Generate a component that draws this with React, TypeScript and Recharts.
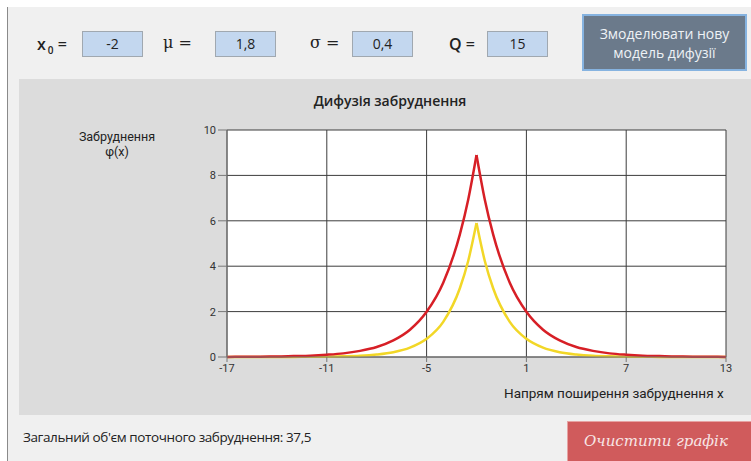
import React from "react";
import { LineChart, Line, XAxis, YAxis, CartesianGrid } from "recharts";

// x positions (units of x) and read-off values of φ(x)
const xValues = [-17, -16, -15, -14, -13, -12, -11, -10, -9, -8, -7, -6, -5, -4, -3, -2.5, -2, -1.5, -1, 0, 1, 2, 3, 4, 5, 6, 7, 8, 9, 10, 11, 12, 13];
const redValues = [0.005, 0.01, 0.015, 0.02, 0.04, 0.06, 0.1, 0.16, 0.27, 0.44, 0.73, 1.2, 1.99, 3.27, 5.4, 6.93, 8.9, 6.93, 5.4, 3.27, 1.99, 1.2, 0.73, 0.44, 0.27, 0.16, 0.1, 0.06, 0.04, 0.02, 0.015, 0.01, 0.005];
const yellowValues = [0, 0, 0.001, 0.002, 0.004, 0.008, 0.015, 0.03, 0.055, 0.11, 0.21, 0.41, 0.8, 1.55, 3.03, 4.23, 5.9, 4.23, 3.03, 1.55, 0.8, 0.41, 0.21, 0.11, 0.055, 0.03, 0.015, 0.008, 0.004, 0.002, 0.001, 0, 0];
const peakX = -2;

const xTicks = [-17, -11, -5, 1, 7, 13];
const yTicks = [0, 2, 4, 6, 8, 10];

const params = [
  { label: "x", sub: "0", value: "-2", left: 37, boxLeft: 82, serif: false },
  { label: "μ", sub: "", value: "1,8", left: 163, boxLeft: 215, serif: true },
  { label: "σ", sub: "", value: "0,4", left: 310, boxLeft: 352, serif: true },
  { label: "Q", sub: "", value: "15", left: 449, boxLeft: 487, serif: false },
];

const totalVolume = "37,5";

// split each curve into two branches so the peak stays a sharp cusp
const chartData = xValues.map((x, i) => ({
  x,
  redL: x <= peakX ? redValues[i] : undefined,
  redR: x >= peakX ? redValues[i] : undefined,
  yelL: x <= peakX ? yellowValues[i] : undefined,
  yelR: x >= peakX ? yellowValues[i] : undefined,
}));

const uiFont = "'Open Sans', 'DejaVu Sans', sans-serif";
const chartFont = "Roboto, 'Noto Sans', sans-serif";

export default function App() {
  return (
    <div style={{ position: "absolute", left: 0, top: 0, width: 751, height: 461, background: "#f0f0f0", overflow: "hidden", fontFamily: uiFont }}>
      <div style={{ position: "absolute", left: 0, top: 0, width: 751, height: 7, background: "#fff" }} />
      <div style={{ position: "absolute", left: 0, top: 0, width: 7, height: 461, background: "#fff" }} />
      <div style={{ position: "absolute", left: 7, top: 7, width: 1, height: 454, background: "#8a8a8a" }} />

      {params.map((p) => (
        <React.Fragment key={p.label}>
          <div style={{ position: "absolute", left: p.left, top: 33, fontSize: 16, fontWeight: p.serif ? 400 : 600, fontFamily: p.serif ? "'DejaVu Serif', serif" : uiFont, color: "#222", whiteSpace: "nowrap" }}>
            {p.label}
            {p.sub && <sub style={{ fontSize: 10, marginLeft: 2 }}>{p.sub}</sub>}
            {" ="}
          </div>
          <div style={{ position: "absolute", left: p.boxLeft, top: 31, width: 59, height: 24, background: "#c3d7ef", border: "1px solid #a0a8b0", fontSize: 14, color: "#222", textAlign: "center", lineHeight: "24px" }}>
            {p.value}
          </div>
        </React.Fragment>
      ))}

      <div style={{ position: "absolute", left: 582, top: 14, width: 161, height: 53, background: "#6b7a8b", border: "2px solid #86b3e0", color: "#eef2f6", fontSize: 14, textAlign: "center", lineHeight: "19px", display: "flex", alignItems: "center", justifyContent: "center", whiteSpace: "nowrap" }}>
        Змоделювати нову<br />модель дифузії
      </div>

      <div style={{ position: "absolute", left: 19, top: 79, width: 732, height: 336, background: "#dcdcdc" }}>
        <div style={{ position: "absolute", left: 0, top: 12, width: 742, textAlign: "center", fontSize: 14, fontWeight: 600, color: "#222", fontFamily: uiFont }}>
          Дифузія забруднення
        </div>
        <div style={{ position: "absolute", left: 48, top: 50, width: 100, textAlign: "center", fontSize: 12.5, color: "#222", fontFamily: chartFont, lineHeight: "15px" }}>
          Забруднення<br />φ(x)
        </div>
        <div style={{ position: "absolute", left: 485, top: 306, fontSize: 13.5, color: "#222", fontFamily: chartFont, whiteSpace: "nowrap" }}>
          Напрям поширення забруднення x
        </div>
        <LineChart width={732} height={336} data={chartData} margin={{ top: 51, right: 25, bottom: 28, left: 148 }} style={{ position: "absolute", left: 0, top: 0, fontFamily: chartFont }}>
          <CartesianGrid stroke="#3c3c3c" fill="#ffffff" />
          <XAxis dataKey="x" type="number" domain={[-17, 13]} ticks={xTicks} allowDataOverflow height={30} tickSize={5} axisLine={{ stroke: "#777" }} tickLine={{ stroke: "#777" }} tick={{ fontSize: 11, fill: "#333" }} />
          <YAxis type="number" domain={[0, 10]} ticks={yTicks} width={60} tickSize={9} axisLine={{ stroke: "#777" }} tickLine={{ stroke: "#777" }} tick={{ fontSize: 11, fill: "#333" }} />
          <Line dataKey="yelL" type="monotone" stroke="#f2d727" strokeWidth={2.5} dot={false} isAnimationActive={false} />
          <Line dataKey="yelR" type="monotone" stroke="#f2d727" strokeWidth={2.5} dot={false} isAnimationActive={false} />
          <Line dataKey="redL" type="monotone" stroke="#d71f26" strokeWidth={2.5} dot={false} isAnimationActive={false} />
          <Line dataKey="redR" type="monotone" stroke="#d71f26" strokeWidth={2.5} dot={false} isAnimationActive={false} />
        </LineChart>
      </div>

      <div style={{ position: "absolute", left: 23, top: 428, fontSize: 13.5, letterSpacing: -0.4, color: "#222", fontFamily: uiFont, whiteSpace: "nowrap" }}>
        Загальний об'єм поточного забруднення: {totalVolume}
      </div>
      <div style={{ position: "absolute", left: 567, top: 421, width: 190, height: 44, background: "#d05b5c", border: "1px solid #e6a3a3", color: "#f7e6e6", fontSize: 15, fontStyle: "italic", fontFamily: "'DejaVu Serif', serif", whiteSpace: "nowrap", paddingLeft: 16, lineHeight: "38px", boxSizing: "border-box" }}>
        Очистити графік
      </div>
    </div>
  );
}
